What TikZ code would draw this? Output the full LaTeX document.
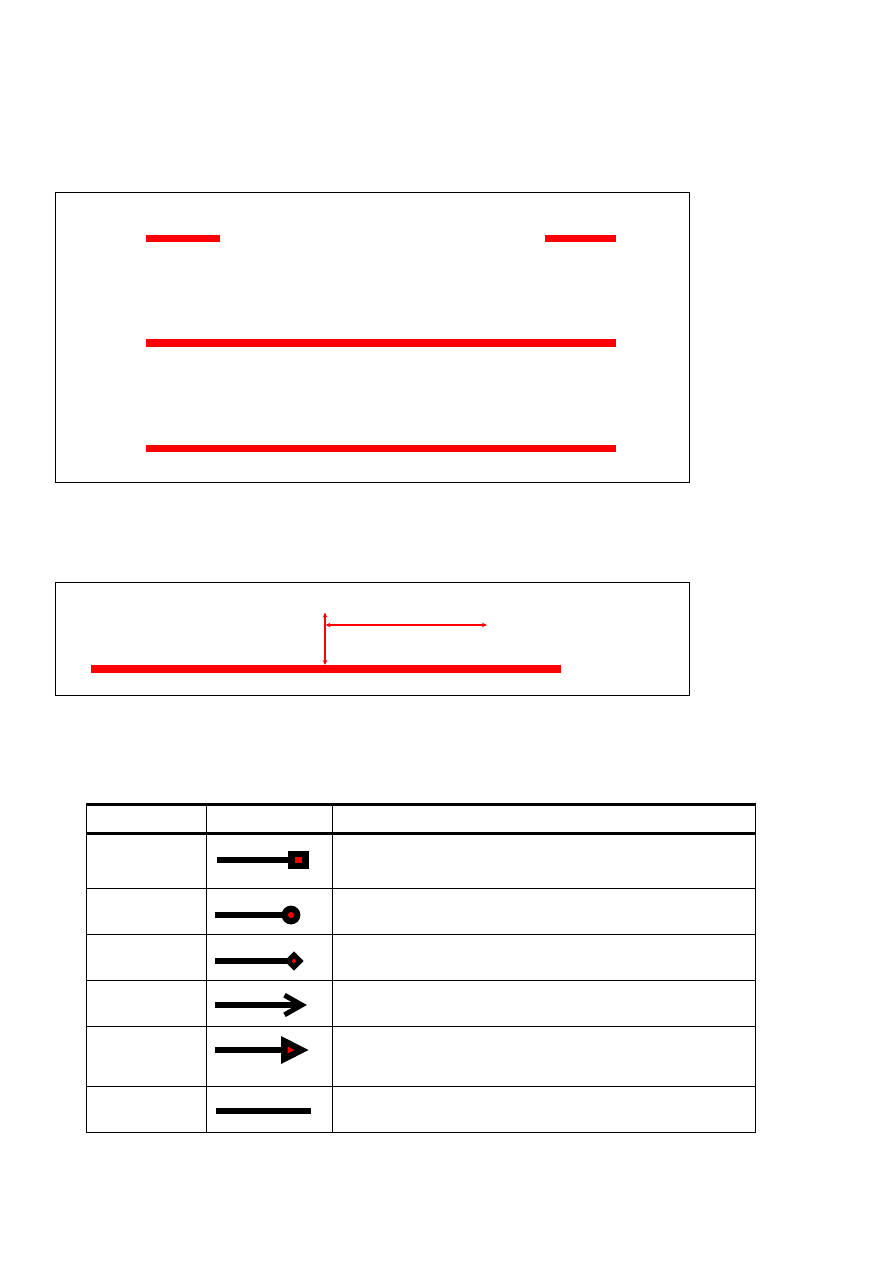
\documentclass[tikz,border=0pt]{standalone}
\usetikzlibrary{arrows.meta}
\begin{document}
\begin{tikzpicture}[x=1pt,y=-1pt,
  frame/.style={draw=black,line width=1pt},
  redbar/.style={draw=red,line width=7pt},
  dimarrow/.style={draw=red,line width=1.3pt,{Stealth[length=5pt,width=4.5pt]}-{Stealth[length=5pt,width=4.5pt]}},
  thinrule/.style={draw=black,line width=1pt},
  thickrule/.style={draw=black,line width=3pt},
  iconline/.style={draw=black,line width=5.5pt},
  reddot/.style={fill=red}]
\useasboundingbox[fill=white] (0,0) rectangle (893,1263);

% ---- box 1 ----
\draw[frame] (55.3,192.3) rectangle (689.7,482);
\draw[redbar] (146,238.5) -- (220,238.5);
\draw[redbar] (545,238.5) -- (616,238.5);
\draw[redbar,line width=7.5pt] (146,343) -- (616,343);
\draw[redbar] (146,448.5) -- (616,448.5);

% ---- box 2 ----
\draw[frame] (55.3,582.3) rectangle (689.7,695);
\draw[redbar,line width=7.5pt] (91,669) -- (561,669);
\coordinate (vtop) at (325,612.5);
\coordinate (vbot) at (325,665);
\coordinate (hleft) at (325.5,625);
\coordinate (hright) at (487,625);
\draw[dimarrow] (vtop) -- (vbot);
\draw[dimarrow] (hleft) -- (hright);

% ---- table ----
\draw[thickrule] (86.3,804.2) -- (755.7,804.2);
\draw[thickrule] (86.3,833.5) -- (755.7,833.5);
\foreach \yy in {888.3,934,980.3,1026.5,1086.3}
  \draw[thinrule] (86.3,\yy) -- (755.7,\yy);
\draw[thinrule] (86.3,1132) -- (755.7,1132);
\foreach \xx in {86.8,206.7,332.8,755.2}
  \draw[thinrule] (\xx,802.7) -- (\xx,1132.5);

% row 1: square end
\draw[iconline] (217,860) -- (289,860);
\fill[black] (288,851) rectangle (308.5,869);
\fill[reddot] (295,856.8) rectangle (301.6,863.2);

% row 2: round end
\draw[iconline] (215,915) -- (284,915);
\fill[black] (291,915) circle (9.4);
\fill[reddot] (291,915) circle (3);

% row 3: diamond end
\draw[iconline] (215,961) -- (287,961);
\fill[black] (284.3,961) -- (294,951.3) -- (303.7,961) -- (294,970.7) -- cycle;
\fill[reddot] (294,961) circle (2);

% row 4: open arrow
\draw[iconline] (215,1005) -- (302,1005);
\draw[black,line width=5pt,line join=miter,line cap=butt] (284.5,995.2) -- (301.8,1005) -- (284.5,1014.8);

% row 5: filled triangle
\draw[iconline] (215,1050) -- (283,1050);
\fill[black] (281,1036) -- (308.5,1050) -- (281,1064) -- cycle;
\fill[reddot] (287.5,1046.5) -- (294.3,1050) -- (287.5,1053.5) -- cycle;

% row 6: plain line
\draw[iconline,line width=5.7pt] (216,1111) -- (311,1111);
\end{tikzpicture}
\end{document}
